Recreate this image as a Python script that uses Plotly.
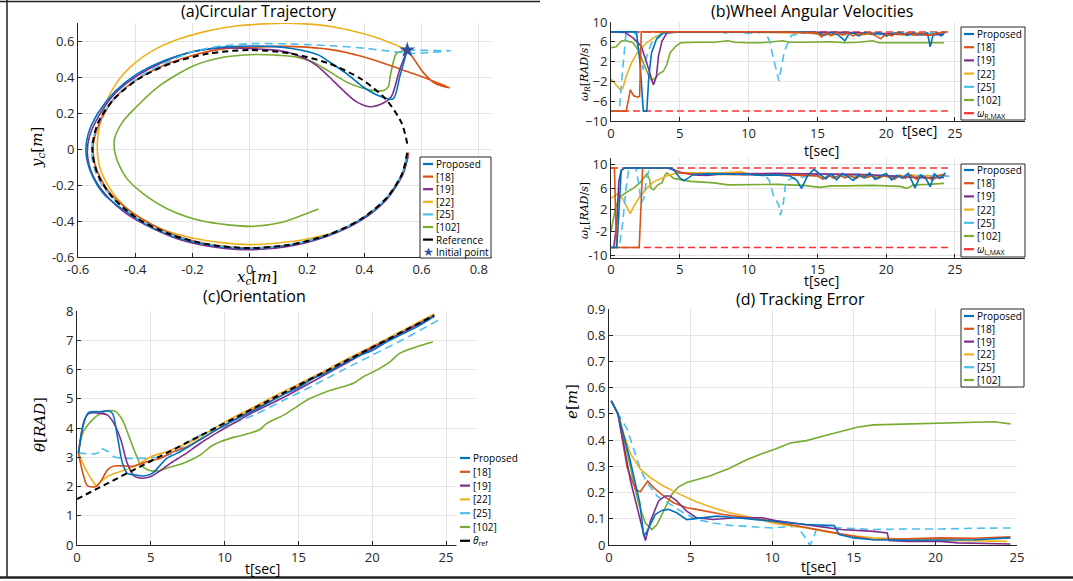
import plotly.graph_objects as go

W, H = 1073, 581

# ---------------- colours ----------------
C_PROP = '#0072BD'
C_18 = '#D95319'
C_19 = '#7E2F8E'
C_22 = '#EDB120'
C_25 = '#4DBEEE'
C_102 = '#77AC30'
C_MAX = '#FF3030'
C_STAR = '#30509F'

# ---------------- (a) circular trajectory ----------------
REF_X = [0.55, 0.531, 0.476, 0.389, 0.275, 0.142, 0.0, -0.142, -0.275, -0.389, -0.476, -0.531, -0.55,
         -0.531, -0.476, -0.389, -0.275, -0.142, 0.0, 0.142, 0.275, 0.389, 0.476, 0.531, 0.55]
REF_Y = [0.03, 0.142, 0.275, 0.389, 0.476, 0.531, 0.55, 0.531, 0.476, 0.389, 0.275, 0.142, 0.0,
         -0.142, -0.275, -0.389, -0.476, -0.531, -0.55, -0.531, -0.476, -0.389, -0.275, -0.142, -0.02]

PROP_X = [0.55, 0.525, 0.50, 0.453, 0.395, 0.337, 0.278, 0.243, 0.208, 0.14, 0.07, 0.0, -0.1, -0.2, -0.3, -0.4,
          -0.47, -0.53, -0.565, -0.572, -0.555, -0.51, -0.44, -0.35, -0.25, -0.14, 0.0, 0.14, 0.275, 0.389,
          0.476, 0.53, 0.552]
PROP_Y = [0.55, 0.41, 0.278, 0.294, 0.346, 0.42, 0.484, 0.52, 0.539, 0.56, 0.57, 0.572, 0.565, 0.54, 0.49, 0.41,
          0.32, 0.2, 0.08, -0.02, -0.13, -0.25, -0.34, -0.43, -0.495, -0.535, -0.553, -0.533, -0.478, -0.39,
          -0.276, -0.145, -0.04]

R18_X = [0.55, 0.569, 0.605, 0.641, 0.67, 0.698, 0.62, 0.55, 0.47, 0.39, 0.30, 0.2, 0.1, 0.0, -0.1, -0.2, -0.3,
         -0.4, -0.47, -0.52, -0.546, -0.54, -0.5, -0.43, -0.34, -0.24, -0.12, 0.0, 0.14, 0.275, 0.39, 0.478,
         0.535, 0.555]
R18_Y = [0.55, 0.51, 0.427, 0.371, 0.35, 0.34, 0.39, 0.43, 0.475, 0.515, 0.548, 0.566, 0.57, 0.565, 0.555, 0.52,
         0.465, 0.38, 0.285, 0.16, 0.03, -0.09, -0.22, -0.33, -0.42, -0.49, -0.535, -0.55, -0.533, -0.478,
         -0.392, -0.275, -0.14, -0.02]

R19_X = [0.55, 0.523, 0.494, 0.465, 0.418, 0.372, 0.325, 0.278, 0.232, 0.185, 0.126, 0.068, 0.0, -0.1, -0.2,
         -0.3, -0.4, -0.47, -0.525, -0.56, -0.567, -0.55, -0.5, -0.43, -0.34, -0.24, -0.12, 0.0, 0.14, 0.275,
         0.39, 0.478, 0.532, 0.553]
R19_Y = [0.55, 0.438, 0.29, 0.254, 0.235, 0.263, 0.327, 0.40, 0.466, 0.508, 0.54, 0.552, 0.558, 0.562, 0.54,
         0.485, 0.40, 0.31, 0.19, 0.07, -0.03, -0.14, -0.26, -0.36, -0.44, -0.505, -0.545, -0.56, -0.54,
         -0.482, -0.395, -0.28, -0.148, -0.04]

R22_X = [0.55, 0.45, 0.35, 0.25, 0.15, 0.05, -0.05, -0.15, -0.25, -0.33, -0.4, -0.45, -0.49, -0.515, -0.53,
         -0.532, -0.52, -0.48, -0.4, -0.3, -0.2, -0.1, 0.0, 0.1, 0.2, 0.3, 0.39, 0.476, 0.532, 0.553]
R22_Y = [0.55, 0.615, 0.66, 0.688, 0.698, 0.695, 0.683, 0.655, 0.61, 0.555, 0.48, 0.40, 0.30, 0.19, 0.08,
         -0.02, -0.12, -0.24, -0.374, -0.45, -0.494, -0.52, -0.531, -0.522, -0.5, -0.46, -0.39, -0.275, -0.14,
         -0.02]

R25_X = [0.55, 0.62, 0.70, 0.62, 0.55, 0.48, 0.40, 0.30, 0.2, 0.1, 0.0, -0.1, -0.2, -0.3, -0.4, -0.47, -0.52,
         -0.55, -0.548, -0.52, -0.476, -0.389, -0.275, -0.142, 0.0, 0.142, 0.275, 0.389, 0.476, 0.531, 0.55]
R25_Y = [0.55, 0.548, 0.546, 0.535, 0.532, 0.545, 0.56, 0.572, 0.58, 0.585, 0.585, 0.572, 0.54, 0.475, 0.385,
         0.29, 0.17, 0.04, -0.08, -0.19, -0.275, -0.389, -0.476, -0.531, -0.55, -0.531, -0.476, -0.389, -0.275,
         -0.142, -0.02]

R102_X = [0.55, 0.512, 0.50, 0.49, 0.484, 0.47, 0.44, 0.395, 0.337, 0.278, 0.22, 0.161, 0.106, 0.0, -0.106,
          -0.2, -0.318, -0.4, -0.447, -0.473, -0.468, -0.435, -0.376, -0.282, -0.165, 0.0, 0.106, 0.18, 0.24]
R102_Y = [0.55, 0.53, 0.475, 0.40, 0.346, 0.327, 0.323, 0.337, 0.373, 0.43, 0.484, 0.512, 0.52, 0.524, 0.506,
          0.46, 0.348, 0.228, 0.144, 0.052, -0.04, -0.152, -0.244, -0.337, -0.40, -0.43, -0.41, -0.37, -0.334]

INIT_X = [0.55]
INIT_Y = [0.55]

# ---------------- (b) wheel angular velocities: right wheel ----------------
WR_T_PROP = [0, 1.85, 2.1, 2.35, 2.6, 2.75, 2.95, 3.3, 3.8, 4.5, 6, 8, 10, 12, 14, 15, 15.5, 16, 16.5, 17, 17.3,
             17.6, 18, 18.5, 19, 19.5, 20, 20.5, 21, 21.5, 22, 22.5, 23, 23.2, 23.4, 23.7, 24, 24.3]
WR_PROP = [8, 8, 2, -8, -8, -1, 3.8, 6.5, 7.8, 8, 8, 8, 8, 8, 8, 7.8, 7.3, 7.9, 7.4, 6.2, 7.6, 7.8, 7.2, 7.9,
           7.5, 7.8, 7.2, 7.7, 7.9, 7.3, 7.8, 7.5, 7.8, 5.0, 7.3, 7.9, 7.2, 8]
WR_T_18 = [0, 1.1, 1.25, 1.4, 1.65, 1.97, 2.08, 2.2, 4, 8, 12, 15, 15.3, 15.7, 16, 16.4, 16.8, 17.2, 17.6, 18,
           18.4, 18.8, 19.2, 19.6, 20, 20.4, 20.8, 21.2, 21.6, 22, 22.5, 23, 23.5, 24, 24.3]
WR_18 = [-8, -8, -6, -3.7, -4.9, -5.2, -5, 8, 8, 8, 8, 7.8, 7.0, 7.8, 7.3, 7.9, 7.4, 7.8, 7.2, 7.7, 7.5, 7.9,
         7.3, 6.6, 7.6, 7.2, 7.8, 7.4, 7.9, 7.5, 7.8, 7.3, 7.6, 7.9, 8]
WR_T_19 = [0, 1.0, 1.6, 2.2, 2.6, 2.95, 3.08, 3.3, 3.45, 3.7, 4.06, 5, 10, 15, 17, 18, 19, 20, 21, 22, 23, 24.2]
WR_19 = [8, 7.9, 6.8, 5.1, 1.7, -1.7, -2.7, -1, 3.1, 6.1, 7.8, 8, 8, 8, 7.9, 7.8, 7.7, 7.6, 7.5, 7.4, 7.4, 7.5]
WR_T_22 = [0, 0.37, 0.67, 0.86, 1.1, 1.48, 1.97, 2.6, 3.2, 3.8, 4.2, 8, 12, 14.5, 15, 15.5, 16, 16.5, 17, 17.5,
           18, 18.5, 19, 19.5, 20, 20.5, 21, 21.5, 22, 22.5, 23, 23.5, 24, 24.2]
WR_22 = [-1.5, -2.7, -3.7, -3.4, -1, 1.7, 4.1, 5.8, 7.0, 7.8, 8, 8, 7.9, 7.8, 7.5, 7.8, 7.2, 7.7, 7.4, 7.8, 7.3,
         7.6, 7.5, 7.8, 7.2, 7.6, 7.4, 7.7, 7.3, 7.6, 7.5, 7.7, 7.4, 7.6]
WR_T_25 = [0, 0.6, 0.8, 1.0, 1.1, 1.7, 1.97, 2.2, 2.34, 2.6, 2.95, 3.57, 4.2, 8, 8.5, 9, 10, 11.2, 11.5, 12.2,
           12.4, 12.6, 13.1, 13.8, 14.5, 15, 15.5, 16, 16.5, 17, 17.5, 18, 18.5, 19, 19.5, 20, 20.5, 21, 21.5,
           22, 22.5, 23, 23.5, 24, 24.3]
WR_25 = [-8, -8, -1, 5.1, 8, 8, 5.1, 1.7, 0.4, 3.1, 5.8, 7.5, 8, 8, 7.6, 8, 7.7, 8, 6.3, -1.9, 1.2, 4.1, 7.3,
         7.6, 8, 7.6, 7.9, 7.4, 7.8, 7.5, 7.9, 7.3, 7.7, 7.8, 7.4, 7.8, 7.5, 7.9, 7.6, 7.3, 7.8, 7.6, 7.9, 7.6, 8]
WR_T_102 = [0, 0.37, 0.74, 1.0, 1.35, 1.6, 1.97, 2.34, 2.7, 2.95, 3.2, 3.57, 3.8, 4.06, 4.3, 4.7, 5.05, 6.3,
            7.5, 8.5, 9, 10, 11, 12.5, 13, 14, 15, 16, 17, 18, 19, 19.5, 20, 21, 22, 23, 24.2]
WR_102 = [4.8, 5.0, 6.1, 6.3, 6.0, 5.8, 4.4, 1.7, -0.6, -1.8, -1.3, -0.3, 0.0, 1.4, 3.8, 5.1, 5.8, 5.9, 5.9,
          6.2, 5.9, 5.8, 5.8, 6.2, 5.9, 5.9, 5.9, 6.0, 5.8, 5.9, 6.2, 5.8, 5.8, 5.8, 5.9, 5.8, 5.8]
WMAX_T = [0, 24.6]
WR_MAX_HI = [8, 8]
WR_MAX_LO = [-8, -8]

# ---------------- (b) left wheel ----------------
WL_T_PROP = [0, 0.42, 0.55, 0.74, 1.0, 4.3, 4.6, 5.0, 5.3, 5.6, 6.0, 7, 8.5, 10, 11, 12, 13, 13.5, 13.85, 14.3,
             14.75, 15.2, 15.6, 16, 16.4, 16.8, 17.2, 17.6, 18, 18.4, 18.8, 19.2, 19.6, 20, 20.4, 20.8, 21.2,
             21.6, 22.1, 22.5, 22.9, 23.2, 23.5, 23.9, 24.3]
WL_PROP = [-8, -8, -2, 7.5, 8, 8, 7.5, 6.0, 5.4, 6.0, 6.7, 6.8, 6.8, 6.7, 6.5, 6.6, 6.4, 5.5, 3.9, 6.5, 7.7,
           6.6, 5.8, 6.8, 5.6, 6.9, 6.3, 5.5, 6.6, 6.0, 7.0, 5.7, 6.4, 6.9, 5.6, 6.5, 5.9, 6.9, 4.0, 6.6, 5.8,
           4.2, 6.8, 5.9, 7.0]
WL_T_18 = [0, 0.25, 0.4, 2.05, 2.3, 4.4, 5, 6, 8, 10, 12, 14, 15, 15.4, 15.8, 16.2, 16.6, 17, 17.4, 17.8, 18.2,
           18.6, 19, 19.4, 19.8, 20.2, 20.6, 21, 21.4, 21.8, 22.2, 22.6, 23, 23.4, 23.8, 24.3]
WL_18 = [8, 8, -8, -8, 8, 8, 7.0, 6.8, 6.7, 6.7, 6.6, 6.5, 6.4, 5.7, 6.5, 5.9, 6.6, 6.0, 6.5, 5.8, 6.6, 6.1,
         6.5, 5.8, 6.4, 6.2, 5.7, 6.5, 5.9, 6.6, 5.7, 6.4, 6.1, 5.6, 6.5, 6.6]
WL_T_19 = [0, 0.2, 0.42, 0.57, 0.74, 1.0, 4.1, 5, 6, 7, 8, 10, 12, 14, 16, 18, 19.5, 21, 22, 23, 24.2]
WL_19 = [-8, -8, -3, 5.3, 7.5, 8, 8, 7.2, 6.6, 6.5, 6.8, 6.9, 6.9, 6.8, 6.8, 6.7, 6.5, 6.2, 6.1, 6.0, 6.1]
WL_T_22 = [0, 0.3, 0.6, 1.0, 1.4, 1.7, 2.1, 2.6, 3.1, 3.6, 4.2, 5.0, 6.3, 8, 9.5, 10, 12, 14, 15, 15.5, 16,
           16.5, 17, 17.5, 18, 18.5, 19, 19.5, 20, 20.5, 21, 21.5, 22, 22.5, 23, 23.5, 24, 24.3]
WL_22 = [1.9, 2.5, 2.9, 1.0, -1.2, 0.5, 2.2, 3.9, 5.2, 5.9, 6.6, 7.0, 7.0, 7.0, 7.2, 6.8, 6.8, 6.7, 6.4, 6.0,
         6.5, 6.1, 6.6, 6.2, 6.4, 6.0, 6.5, 6.2, 6.4, 6.0, 6.5, 6.2, 6.6, 6.1, 6.5, 6.2, 6.6, 6.4]
WL_T_25 = [0, 0.6, 0.85, 1.1, 1.3, 1.8, 2.0, 2.2, 2.4, 2.6, 2.8, 4.5, 5, 6, 8, 10, 11.2, 11.5, 11.8, 12.2,
           12.3, 12.5, 12.7, 13.1, 13.5, 14, 15, 16, 17, 18, 19, 20, 21, 22, 23, 24, 24.6]
WL_25 = [-8, -8, -3, 4, 8, 8, 5, 1, 2, 6, 8, 8, 7.0, 6.8, 6.9, 6.6, 6.5, 5.5, 2.5, 0.5, -1.5, 0.3, 5.2, 5.9,
         6.1, 6.2, 6.5, 6.6, 6.4, 6.5, 6.6, 6.4, 6.5, 6.6, 6.4, 6.5, 6.3]
WL_T_102 = [0, 0.32, 0.57, 1.0, 1.6, 2.1, 2.46, 2.6, 2.8, 2.9, 3.1, 3.4, 3.7, 3.95, 4.06, 4.56, 5.8, 7.5, 8.5,
            10, 12, 13, 14, 15.2, 16, 17, 18, 19, 20, 21, 21.5, 22, 23, 24.2]
WL_102 = [-4.7, -0.2, 1.9, 2.9, 3.9, 5.0, 6.3, 6.8, 5.7, 3.9, 3.6, 4.6, 5.0, 6.7, 7.0, 5.9, 5.3, 5.0, 4.6, 4.7,
          4.7, 4.6, 4.5, 4.1, 4.4, 4.4, 4.5, 4.5, 4.4, 4.3, 3.9, 4.6, 4.7, 4.9]
WL_MAX_HI = [8, 8]
WL_MAX_LO = [-8, -8]
WL_TICKVALS = [8.7, 3.9, -0.4, -4.7, -9.6]
WL_TICKTEXT = ['10', '6', '2', '-2', '-10']

# ---------------- (c) orientation ----------------
TH_T_REF = [0, 24.2]
TH_REF = [1.57, 7.85]
TH_T_PROP = [0.1, 0.4, 0.76, 1.6, 2.07, 2.4, 2.74, 3.08, 3.4, 3.87, 4.5, 5.1, 5.55, 6.1, 6.8, 8, 10, 12, 14,
             15, 16, 17, 18, 19, 20, 21, 22, 23, 24.2]
TH_PROP = [3.14, 4.05, 4.52, 4.56, 4.59, 4.5, 3.7, 2.8, 2.45, 2.4, 2.36, 2.45, 2.68, 2.97, 3.14, 3.5, 4.1, 4.6,
           5.15, 5.38, 5.7, 5.9, 6.2, 6.45, 6.65, 6.95, 7.2, 7.45, 7.82]
TH_T_18 = [0.1, 0.4, 0.72, 1.28, 1.6, 2.07, 2.5, 3.2, 3.87, 4.77, 5.67, 6.56, 7.46, 8.5, 10, 12, 14, 16, 18, 20,
           22, 24.2]
TH_18 = [3.14, 2.45, 2.02, 2.0, 2.17, 2.57, 2.7, 2.7, 2.7, 2.85, 2.97, 3.2, 3.36, 3.65, 4.1, 4.65, 5.15, 5.7,
         6.2, 6.75, 7.25, 7.82]
TH_T_19 = [0.1, 0.5, 0.83, 1.6, 2.07, 2.5, 2.97, 3.4, 3.87, 4.43, 5, 5.55, 6.34, 7.24, 8.36, 9.5, 10.6, 12, 14,
           16, 18, 20, 22, 24.2]
TH_19 = [3.14, 4.27, 4.5, 4.5, 4.44, 4.16, 3.6, 2.8, 2.36, 2.28, 2.34, 2.51, 2.8, 3.08, 3.48, 3.84, 4.16, 4.55,
         5.05, 5.6, 6.15, 6.72, 7.25, 7.85]
TH_T_22 = [0.1, 0.5, 0.94, 1.35, 1.62, 2.07, 2.74, 3.87, 5, 6.1, 8, 10, 12, 14, 16, 18, 20, 22, 24.2]
TH_22 = [3.14, 2.68, 2.28, 2.02, 2.17, 2.34, 2.48, 2.68, 3.02, 3.2, 3.6, 4.2, 4.72, 5.25, 5.75, 6.28, 6.8, 7.32,
         7.9]
TH_T_25 = [0.1, 1.4, 1.6, 2.07, 2.5, 2.97, 4.77, 5.67, 6.56, 7.46, 8.36, 10.6, 12, 14, 16, 18, 20, 22, 24.7]
TH_25 = [3.14, 3.14, 3.3, 3.2, 3.02, 2.97, 2.97, 3.02, 3.14, 3.48, 3.76, 4.16, 4.45, 4.95, 5.45, 5.98, 6.49,
         7.0, 7.75]
TH_T_102 = [0.1, 0.38, 0.83, 1.28, 1.62, 2.07, 2.63, 3.08, 3.53, 3.87, 4.32, 4.77, 5.44, 6.1, 7.24, 8.36, 9.04,
            9.7, 10.6, 11.7, 12.4, 12.86, 14, 14.9, 15.56, 16.9, 18, 18.8, 19.4, 20.3, 21.2, 21.85, 22.97, 24.1]
TH_102 = [3.14, 3.82, 4.16, 4.39, 4.5, 4.59, 4.56, 4.27, 3.7, 3.25, 2.74, 2.57, 2.53, 2.63, 2.8, 3.08, 3.36,
          3.53, 3.68, 3.82, 3.95, 4.16, 4.44, 4.73, 4.95, 5.24, 5.41, 5.55, 5.75, 5.98, 6.26, 6.55, 6.77, 6.94]

# ---------------- (d) tracking error ----------------
E_T_PROP = [0.14, 0.55, 1.27, 1.89, 2.13, 2.33, 2.83, 3.24, 3.64, 4.15, 4.76, 5.16, 5.77, 6.6, 7.8, 10.1, 12.1,
            13.8, 14.1, 15, 16.2, 18.3, 20.3, 22.4, 24.6]
E_PROP = [0.55, 0.5, 0.33, 0.16, 0.033, 0.052, 0.116, 0.132, 0.136, 0.123, 0.097, 0.1, 0.106, 0.11, 0.104,
          0.091, 0.078, 0.074, 0.04, 0.027, 0.02, 0.018, 0.02, 0.02, 0.027]
E_T_18 = [0.14, 0.55, 1.11, 1.62, 1.92, 2.37, 2.73, 3.34, 3.95, 4.76, 5.36, 7, 9.4, 12.1, 14.2, 15.2, 16.2,
          18.3, 20.3, 22.4, 24.6]
E_18 = [0.55, 0.5, 0.295, 0.212, 0.203, 0.244, 0.219, 0.187, 0.161, 0.142, 0.136, 0.116, 0.097, 0.065, 0.04,
        0.031, 0.02, 0.024, 0.027, 0.026, 0.031]
E_T_19 = [0.14, 0.55, 1.32, 2.23, 2.53, 3.04, 3.44, 3.74, 4.15, 4.76, 5.36, 6.38, 7.8, 9.4, 10.2, 12.1, 14.2,
          16.2, 17.05, 17.15, 18.3, 20.3, 21.4, 24.6]
E_19 = [0.55, 0.5, 0.244, 0.017, 0.09, 0.168, 0.187, 0.187, 0.168, 0.129, 0.104, 0.097, 0.104, 0.104, 0.093,
        0.078, 0.059, 0.052, 0.046, 0.017, 0.014, 0.014, 0.008, 0.004]
E_T_22 = [0.14, 0.55, 0.91, 1.32, 1.92, 2.53, 3.34, 4.35, 5.36, 6.38, 7.39, 8.4, 10.2, 12.1, 13.2, 14.2, 16.2,
          18.3, 20.3, 24.4]
E_22 = [0.55, 0.5, 0.423, 0.347, 0.289, 0.257, 0.225, 0.193, 0.165, 0.142, 0.123, 0.11, 0.081, 0.065, 0.052,
        0.04, 0.027, 0.023, 0.018, 0.014]
E_T_25 = [0.14, 0.55, 1.11, 1.42, 1.92, 2.33, 2.94, 3.95, 4.55, 5.36, 6.38, 7.39, 10.0, 11.5, 11.9, 12.3, 12.5,
          12.7, 13, 14.2, 16.2, 18.3, 20.3, 22.4, 24.6]
E_25 = [0.55, 0.5, 0.442, 0.385, 0.289, 0.238, 0.187, 0.148, 0.123, 0.097, 0.084, 0.075, 0.065, 0.072, 0.04,
        0.0, 0.02, 0.059, 0.072, 0.065, 0.059, 0.061, 0.061, 0.064, 0.065]
E_T_102 = [0.14, 0.55, 1.32, 1.82, 2.23, 2.63, 2.94, 3.34, 3.85, 4.25, 4.76, 5.36, 6.17, 7.39, 8.4, 9.4, 10.2,
           11.1, 12.1, 13.2, 14.2, 15.2, 16.2, 18.3, 20.3, 22.4, 23.6, 24.6]
E_102 = [0.55, 0.5, 0.295, 0.155, 0.084, 0.059, 0.078, 0.129, 0.193, 0.221, 0.238, 0.249, 0.263, 0.293, 0.324,
         0.349, 0.366, 0.389, 0.398, 0.417, 0.432, 0.449, 0.458, 0.462, 0.464, 0.468, 0.47, 0.462]

LEGEND_NAMES = ['Proposed', '[18]', '[19]', '[22]', '[25]', '[102]']

# ---------------- helpers ----------------
def px(x):
    return x / W


def py(y):
    return 1 - y / H


fig = go.Figure()


def line(x, y, color, ax, dash='solid', width=1.6, shape='linear'):
    fig.add_trace(go.Scatter(x=x, y=y, mode='lines', showlegend=False, hoverinfo='skip',
                             line=dict(color=color, width=width, dash=dash, shape=shape, smoothing=0.8),
                             xaxis='x' + ax, yaxis='y' + ax))

DASH25 = '8px,5px'
DASHREF = '6px,4px'

# (a)
for xs, ys, c in [(R22_X, R22_Y, C_22), (R102_X, R102_Y, C_102), (R18_X, R18_Y, C_18),
                  (R19_X, R19_Y, C_19), (PROP_X, PROP_Y, C_PROP)]:
    line(xs, ys, c, '', shape='spline')
line(R25_X, R25_Y, C_25, '', dash=DASH25, shape='spline')
line(REF_X, REF_Y, 'black', '', dash=DASHREF, width=2, shape='spline')
fig.add_trace(go.Scatter(x=INIT_X, y=INIT_Y, mode='markers', showlegend=False, hoverinfo='skip',
                         marker=dict(symbol='star', size=12, color=C_STAR), xaxis='x', yaxis='y'))

# (b) upper
line(WMAX_T, WR_MAX_HI, C_MAX, '2', dash='7px,4px', width=1.5)
line(WMAX_T, WR_MAX_LO, C_MAX, '2', dash='7px,4px', width=1.5)
line(WR_T_102, WR_102, C_102, '2')
line(WR_T_22, WR_22, C_22, '2')
line(WR_T_25, WR_25, C_25, '2', dash=DASH25)
line(WR_T_19, WR_19, C_19, '2')
line(WR_T_PROP, WR_PROP, C_PROP, '2')
line(WR_T_18, WR_18, C_18, '2')

# (b) lower
line(WMAX_T, WL_MAX_HI, C_MAX, '3', dash='7px,4px', width=1.5)
line(WMAX_T, WL_MAX_LO, C_MAX, '3', dash='7px,4px', width=1.5)
line(WL_T_102, WL_102, C_102, '3')
line(WL_T_22, WL_22, C_22, '3')
line(WL_T_25, WL_25, C_25, '3', dash=DASH25)
line(WL_T_19, WL_19, C_19, '3')
line(WL_T_18, WL_18, C_18, '3')
line(WL_T_PROP, WL_PROP, C_PROP, '3')

# (c)
line(TH_T_102, TH_102, C_102, '4', shape='spline')
line(TH_T_25, TH_25, C_25, '4', dash=DASH25, shape='spline')
line(TH_T_22, TH_22, C_22, '4', shape='spline')
line(TH_T_18, TH_18, C_18, '4', shape='spline')
line(TH_T_19, TH_19, C_19, '4', shape='spline')
line(TH_T_PROP, TH_PROP, C_PROP, '4', shape='spline')
line(TH_T_REF, TH_REF, 'black', '4', dash=DASHREF, width=2)

# (d)
line(E_T_102, E_102, C_102, '5')
line(E_T_25, E_25, C_25, '5', dash=DASH25)
line(E_T_22, E_22, C_22, '5')
line(E_T_18, E_18, C_18, '5')
line(E_T_19, E_19, C_19, '5')
line(E_T_PROP, E_PROP, C_PROP, '5')

# ---------------- axes ----------------
TICKFONT = dict(family='Open Sans', size=13, color='#262626')
GRID = '#e4e4e4'


def axis(domain, rng, tickvals, ticktext=None, anchor=None):
    d = dict(domain=domain, range=rng, tickvals=tickvals, showgrid=True, gridcolor=GRID, gridwidth=1,
             zeroline=False, showline=True, linecolor='#262626', linewidth=1, ticks='inside', ticklen=4,
             tickcolor='#262626', tickfont=TICKFONT, anchor=anchor, fixedrange=True, automargin=False)
    if ticktext is not None:
        d['ticktext'] = ticktext
    return d


AX_X = [-0.6, -0.4, -0.2, 0, 0.2, 0.4, 0.6, 0.8]
AX_XT = ['-0.6', '-0.4', '-0.2', '0', '0.2', '0.4', '0.6', '0.8']
AY_Y = [-0.6, -0.4, -0.2, 0, 0.2, 0.4, 0.6]
AY_YT = ['-0.6', '-0.4', '-0.2', '0', '0.2', '0.4', '0.6']
T_TICKS = [0, 5, 10, 15, 20, 25]
WR_TICKS = [-10, -6, -2, 2, 6, 10]
TH_TICKS = [0, 1, 2, 3, 4, 5, 6, 7, 8]
E_TICKS = [0, 0.1, 0.2, 0.3, 0.4, 0.5, 0.6, 0.7, 0.8, 0.9]
E_TICKT = ['0', '0.1', '0.2', '0.3', '0.4', '0.5', '0.6', '0.7', '0.8', '0.9']

fig.update_layout(
    width=W, height=H, margin=dict(l=0, r=0, t=0, b=0, pad=0, autoexpand=False), autosize=False,
    paper_bgcolor='white', plot_bgcolor='white', showlegend=False,
    xaxis=axis([px(78), px(492)], [-0.6, 0.846], AX_X, AX_XT, 'y'),
    yaxis=axis([py(257), py(23)], [-0.6, 0.7], AY_Y, AY_YT, 'x'),
    xaxis2=axis([px(611), px(1025)], [0, 30.09], T_TICKS, None, 'y2'),
    yaxis2=axis([py(121), py(22)], [-10, 10], WR_TICKS, None, 'x2'),
    xaxis3=axis([px(611), px(1025)], [0, 30.09], T_TICKS, None, 'y3'),
    yaxis3=axis([py(257.5), py(158)], [-10, 10], WL_TICKVALS, WL_TICKTEXT, 'x3'),
    xaxis4=axis([px(77), px(476)], [0, 27.03], T_TICKS, None, 'y4'),
    yaxis4=axis([py(545), py(311)], [0, 8], TH_TICKS, None, 'x4'),
    xaxis5=axis([px(609), px(1017)], [0, 25], T_TICKS, None, 'y5'),
    yaxis5=axis([py(545), py(309)], [0, 0.9], E_TICKS, E_TICKT, 'x5'),
)

# ---------------- text ----------------
ann = []
shapes = []


def text(x, y, s, size=13, family='Open Sans', color='#000000', angle=0, xanchor='center'):
    ann.append(dict(x=px(x), y=py(y), xref='paper', yref='paper', text=s, showarrow=False,
                    xanchor=xanchor, yanchor='middle', textangle=angle,
                    font=dict(family=family, size=size, color=color)))


SERIF = 'DejaVu Serif'
text(259, 11, '(a)Circular Trajectory', 16)
text(812, 11, '(b)Wheel Angular Velocities', 16)
text(254, 296, '(c)Orientation', 16)
text(800, 299, '(d) Tracking Error', 16)

text(257, 277, '<i>x<sub>c</sub></i>[<i>m</i>]', 15, SERIF)
text(37, 148, '<i>y<sub>c</sub></i>[<i>m</i>]', 15, SERIF, angle=-90)
text(585, 72, '<i>ω<sub>R</sub></i>[<i>RAD</i>/<i>s</i>]', 11, SERIF, angle=-90)
text(585, 211, '<i>ω<sub>L</sub></i>[<i>RAD</i>/<i>s</i>]', 11, SERIF, angle=-90)
text(821, 150, 't[sec]', 14)
text(919, 130, 't[sec]', 14)
text(821, 280, 't[sec]', 14)
text(40, 425, '<i>θ</i>[<i>RAD</i>]', 15, SERIF, angle=-90)
text(262, 568, 't[sec]', 14)
text(572, 402, '<i>e</i>[<i>m</i>]', 15, SERIF, angle=-90)
text(818, 566, 't[sec]', 14)

# ---------------- manual legends ----------------
LEG_COLORS = [C_PROP, C_18, C_19, C_22, C_25, C_102]


def legend(x0, y_first, dy, entries, box=None, size=10):
    if box is not None:
        shapes.append(dict(type='rect', xref='paper', yref='paper', x0=px(box[0]), x1=px(box[1]),
                           y0=py(box[3]), y1=py(box[2]), fillcolor='white',
                           line=dict(color='#262626' if box[4] else 'white', width=1), layer='above'))
    for i, (label, color, kind) in enumerate(entries):
        y = y_first + i * dy
        if kind == 'star':
            text(x0 + 6, y, '★', 12, 'DejaVu Sans', color=color)
        else:
            shapes.append(dict(type='line', xref='paper', yref='paper', x0=px(x0 + 1), x1=px(x0 + 11),
                               y0=py(y), y1=py(y), line=dict(color=color, width=2.2), layer='above'))
        text(x0 + 12, y, label, size, 'Open Sans', xanchor='left')


base = [(n, c, 'line') for n, c in zip(LEGEND_NAMES, LEG_COLORS)]
legend(422, 164, 12.6, base + [('Reference', 'black', 'line'), ('Initial point', C_STAR, 'star')],
       box=(420, 491, 157, 258, True))
legend(963, 34, 13.2, base + [('<i>ω</i><sub>R,MAX</sub>', C_MAX, 'line')], box=(961, 1025, 27, 120, True))
legend(963, 170, 13.2, base + [('<i>ω</i><sub>L,MAX</sub>', C_MAX, 'line')], box=(961, 1025, 164, 257, True))
legend(459, 458, 13.8, base + [('<i>θ</i><sub>ref</sub>', 'black', 'line')], box=(457, 513, 450, 548, False))
legend(963, 316, 12.8, base, box=(961, 1024, 309, 387, True))

# outer frame lines
for (x0, y0, x1, y1, w) in [(0, 1.5, 540, 1.5, 1.5), (7, 0, 7, 578, 1.5), (0, 577.5, W, 577.5, 2.5)]:
    shapes.append(dict(type='line', xref='paper', yref='paper', x0=px(x0), y0=py(y0), x1=px(x1), y1=py(y1),
                       line=dict(color='#222222', width=w), layer='above'))

fig.update_layout(annotations=ann, shapes=shapes)
fig.write_html('out.html', config={'displayModeBar': False},
               post_script="document.body.style.margin='0';document.body.style.padding='0';"
                           "document.body.style.overflow='hidden';")
